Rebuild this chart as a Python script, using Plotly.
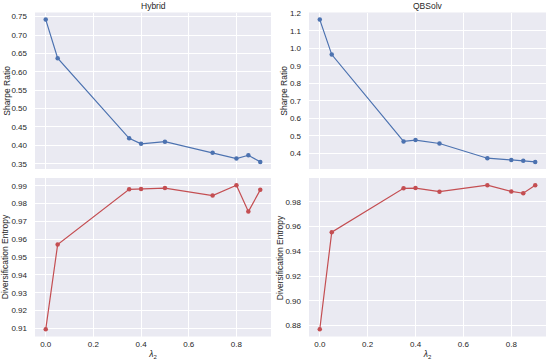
import plotly.graph_objects as go

lam = [0.0, 0.05, 0.35, 0.4, 0.5, 0.7, 0.8, 0.85, 0.9]
hybrid_sharpe = [0.742, 0.637, 0.419, 0.404, 0.410, 0.380, 0.364, 0.373, 0.355]
hybrid_entropy = [0.9095, 0.957, 0.988, 0.9882, 0.9887, 0.9845, 0.9903, 0.9755, 0.9877]
qbsolv_sharpe = [1.165, 0.965, 0.468, 0.476, 0.456, 0.372, 0.362, 0.358, 0.351]
qbsolv_entropy = [0.877, 0.9555, 0.991, 0.9912, 0.9883, 0.9935, 0.9885, 0.987, 0.9935]

titles = ["Hybrid", "QBSolv"]
x_ticks = [0.0, 0.2, 0.4, 0.6, 0.8]
hybrid_sharpe_ticks = [0.35, 0.40, 0.45, 0.50, 0.55, 0.60, 0.65, 0.70, 0.75]
hybrid_entropy_ticks = [0.91, 0.92, 0.93, 0.94, 0.95, 0.96, 0.97, 0.98, 0.99]
qbsolv_sharpe_ticks = [0.4, 0.5, 0.6, 0.7, 0.8, 0.9, 1.0, 1.1, 1.2]
qbsolv_entropy_ticks = [0.88, 0.90, 0.92, 0.94, 0.96, 0.98]
y_titles = ["Sharpe Ratio", "Diversification Entropy"]

BLUE = "#4C72B0"
RED = "#C44E52"
W, H = 550, 361


def px_x(p):
    return p / W


def px_y(p):
    return 1 - p / H


def rng(vals):
    lo, hi = min(vals), max(vals)
    m = (hi - lo) * 0.05
    return [lo - m, hi + m]


fig = go.Figure()

cols = [(35, 271), (309, 546)]
rows = [(12.5, 169), (178, 336.5)]
ytitle_x = [[7, 5], [284, 280]]

series = [
    (hybrid_sharpe, hybrid_entropy, hybrid_sharpe_ticks, ".2f", hybrid_entropy_ticks, ".2f"),
    (qbsolv_sharpe, qbsolv_entropy, qbsolv_sharpe_ticks, ".1f", qbsolv_entropy_ticks, ".2f"),
]

font = dict(family="Liberation Sans, Arial, sans-serif", size=8, color="#262626")
title_font = dict(font, size=8.5)
axis_common = dict(showgrid=True, gridcolor="white", gridwidth=1, zeroline=False,
                   showline=False, ticks="", ticklen=0, tickfont=font, automargin=False)

for ci, (c0, c1) in enumerate(cols):
    sharpe, ent, st, sf, et, ef = series[ci]
    for ri, (r0, r1) in enumerate(rows):
        idx = ci * 2 + ri + 1
        xname = "xaxis" if idx == 1 else "xaxis%d" % idx
        yname = "yaxis" if idx == 1 else "yaxis%d" % idx
        xref = "x" if idx == 1 else "x%d" % idx
        yref = "y" if idx == 1 else "y%d" % idx
        yvals = sharpe if ri == 0 else ent
        color = BLUE if ri == 0 else RED
        fig.add_trace(go.Scatter(x=lam, y=yvals, mode="lines+markers",
                                 line=dict(color=color, width=1.2),
                                 marker=dict(color=color, size=4.5),
                                 xaxis=xref, yaxis=yref, showlegend=False))
        xa = dict(axis_common, domain=[px_x(c0), px_x(c1)], range=[-0.045, 0.945],
                  anchor=yref, tickvals=x_ticks, tickformat=".1f",
                  showticklabels=(ri == 1), ticklabelstandoff=1)
        if ri == 1:
            xa["title"] = dict(text="<i>λ</i><sub>2</sub>", font=title_font, standoff=3)
        ya = dict(axis_common, domain=[px_y(r1), px_y(r0)], range=rng(yvals), anchor=xref,
                  tickvals=(st if ri == 0 else et),
                  tickformat=(sf if ri == 0 else ef), ticklabelstandoff=7)
        fig.layout[xname] = xa
        fig.layout[yname] = ya
        fig.add_annotation(text=y_titles[ri], x=px_x(ytitle_x[ci][ri]), y=px_y((r0 + r1) / 2),
                           xref="paper", yref="paper", xanchor="center", yanchor="middle",
                           textangle=-90, showarrow=False, font=title_font)
    fig.add_annotation(text=titles[ci], x=(px_x(c0) + px_x(c1)) / 2, y=px_y(6),
                       xref="paper", yref="paper", xanchor="center", yanchor="middle",
                       showarrow=False, font=title_font)

fig.update_layout(width=W, height=H, autosize=False, margin=dict(l=0, r=0, t=0, b=0, pad=0),
                  paper_bgcolor="white", plot_bgcolor="#EAEAF2", font=font)

fig.write_html("out.html", config={"responsive": False, "displayModeBar": False},
               post_script="document.body.style.margin='0';document.body.style.overflow='hidden';")
